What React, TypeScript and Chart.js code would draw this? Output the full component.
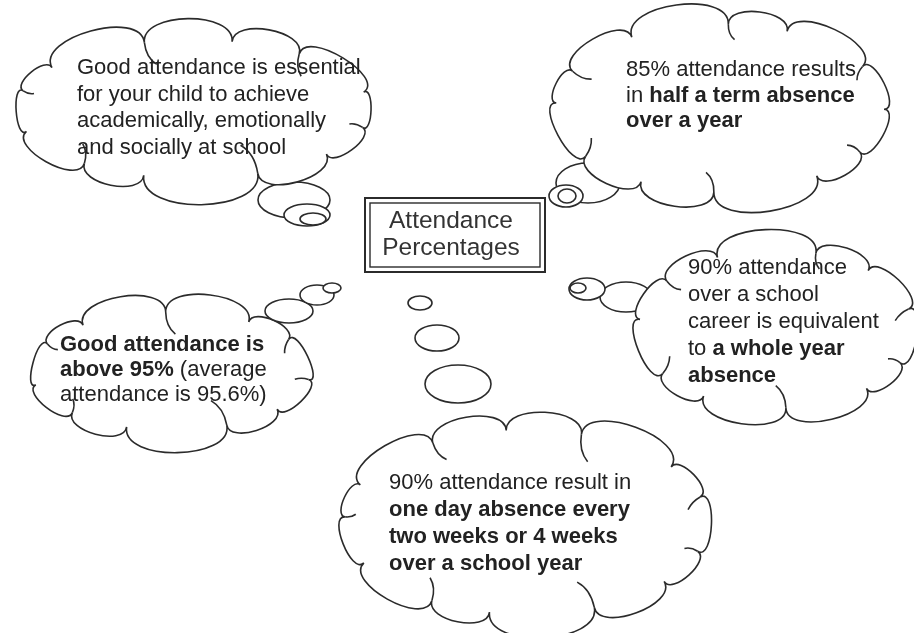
import React, { useEffect, useRef } from "react";
import { Chart, registerables } from "chart.js";

Chart.register(...registerables);

// ---- content ----
const titleLines = ["Attendance", "Percentages"];

const cloudTopLeftLines = [
  "Good attendance is essential",
  "for your child to achieve",
  "academically, emotionally",
  "and socially at school",
];
const cloudTopRightLines = [
  "85% attendance results",
  "in **half a term absence**",
  "**over a year**",
];
const cloudLeftLines = [
  "**Good attendance is**",
  "**above 95%** (average",
  "attendance is 95.6%)",
];
const cloudRightLines = [
  "90% attendance",
  "over a school",
  "career is equivalent",
  "to **a whole year**",
  "**absence**",
];
const cloudBottomLines = [
  "90% attendance result in",
  "**one day absence every**",
  "**two weeks or 4 weeks**",
  "**over a school year**",
];
const cloudTexts = [
  cloudTopLeftLines,
  cloudTopRightLines,
  cloudLeftLines,
  cloudRightLines,
  cloudBottomLines,
];

// cloud geometry in scale units (x: 0..914, y: 0..633)
const cloudCX = [193, 720, 171, 776, 526];
const cloudCY = [109, 108, 371, 329, 522];
const cloudRX = [176, 164, 139, 137, 181];
const cloudRY = [69, 84, 59, 79, 92];
const cloudBumps = [12, 12, 11, 11, 13];
const cloudPhase = [0.2, 0.5, 0.1, 0.35, 0.25];

const textX = [77, 626, 60, 688, 389];
const textY = [68, 70, 345, 268, 483];
const textGap = [26.5, 25.5, 25, 27, 27];

// small thought ellipses: [x, y, rx, ry]
const tailX = [294, 307, 313, 588, 566, 567, 289, 317, 332, 626, 587, 578, 420, 437, 458];
const tailY = [200, 215, 219, 183, 196, 196, 311, 295, 288, 297, 289, 288, 303, 338, 384];
const tailRX = [36, 23, 13, 32, 17, 9, 24, 17, 9, 26, 18, 8, 12, 22, 33];
const tailRY = [18, 11, 6, 20, 11, 7, 12, 10, 5, 15, 11, 5, 7, 13, 19];
const tailUnder = [true, false, false, true, false, false, false, false, false, true, false, false, false, false, false];

const FONT = '"Liberation Sans", Arial, Helvetica, sans-serif';
const INK = "#2b2b2b";

function cloudPath(ctx: CanvasRenderingContext2D, cx: number, cy: number, rx: number, ry: number, n: number, phase: number) {
  const pts: { x: number; y: number; nx: number; ny: number }[] = [];
  const step = (Math.PI * 2) / n;
  for (let i = 0; i < n; i++) {
    const a = phase + i * step + 0.16 * step * Math.sin(i * 2.3 + phase * 5);
    const x = cx + rx * Math.cos(a);
    const y = cy + ry * Math.sin(a);
    let nx = Math.cos(a) / rx;
    let ny = Math.sin(a) / ry;
    const l = Math.hypot(nx, ny);
    nx /= l;
    ny /= l;
    pts.push({ x, y, nx, ny });
  }
  ctx.beginPath();
  ctx.moveTo(pts[0].x, pts[0].y);
  for (let i = 0; i < n; i++) {
    const p = pts[i];
    const q = pts[(i + 1) % n];
    const L = Math.hypot(q.x - p.x, q.y - p.y);
    const h = L * 0.36;
    ctx.bezierCurveTo(p.x + p.nx * h, p.y + p.ny * h, q.x + q.nx * h, q.y + q.ny * h, q.x, q.y);
  }
  ctx.closePath();
  return pts;
}

function drawRichLine(ctx: CanvasRenderingContext2D, line: string, x: number, y: number, size: number) {
  const parts = line.split("**");
  let cx = x;
  parts.forEach((seg, i) => {
    if (!seg) return;
    const bold = i % 2 === 1;
    ctx.font = `${bold ? "bold " : ""}${size}px ${FONT}`;
    ctx.fillText(seg, cx, y);
    cx += ctx.measureText(seg).width;
  });
}

const cloudPlugin = {
  id: "cloudPlugin",
  afterDatasetsDraw(chart: any) {
    const ctx: CanvasRenderingContext2D = chart.ctx;
    const xs = chart.scales.x;
    const ys = chart.scales.y;
    const px = (v: number) => xs.getPixelForValue(v);
    const py = (v: number) => ys.getPixelForValue(v);
    const sx = (v: number) => Math.abs(xs.getPixelForValue(v) - xs.getPixelForValue(0));
    const sy = (v: number) => Math.abs(ys.getPixelForValue(v) - ys.getPixelForValue(0));

    ctx.save();
    ctx.fillStyle = "#ffffff";
    ctx.fillRect(0, 0, chart.width, chart.height);
    ctx.strokeStyle = INK;
    ctx.lineWidth = 1.6;

    const drawTail = (i: number) => {
      ctx.beginPath();
      ctx.ellipse(px(tailX[i]), py(tailY[i]), sx(tailRX[i]), sy(tailRY[i]), 0, 0, Math.PI * 2);
      ctx.fillStyle = "#ffffff";
      ctx.fill();
      ctx.stroke();
    };

    tailX.forEach((_, i) => {
      if (tailUnder[i]) drawTail(i);
    });

    for (let c = 0; c < cloudCX.length; c++) {
      const pts = cloudPath(ctx, px(cloudCX[c]), py(cloudCY[c]), sx(cloudRX[c]), sy(cloudRY[c]), cloudBumps[c], cloudPhase[c]);
      ctx.fillStyle = "#ffffff";
      ctx.fill();
      ctx.stroke();
      const n = pts.length;
      for (let i = 0; i < n; i += 2) {
        const p = pts[i];
        const q = pts[(i + 1) % n];
        const L = Math.hypot(q.x - p.x, q.y - p.y);
        const len = L * 0.25;
        const tx = (q.x - p.x) / L;
        const ty = (q.y - p.y) / L;
        ctx.beginPath();
        ctx.moveTo(p.x, p.y);
        ctx.quadraticCurveTo(p.x - p.nx * len * 0.7, p.y - p.ny * len * 0.7, p.x - p.nx * len + tx * len * 0.45, p.y - p.ny * len + ty * len * 0.45);
        ctx.stroke();
      }
    }

    tailX.forEach((_, i) => {
      if (!tailUnder[i]) drawTail(i);
    });

    // title box
    const bx = px(365), by = py(198), bw = sx(180), bh = sy(74);
    ctx.lineWidth = 2;
    ctx.strokeRect(bx, by, bw, bh);
    ctx.lineWidth = 1.4;
    ctx.strokeRect(bx + 5, by + 5, bw - 10, bh - 10);
    ctx.fillStyle = "#333";
    ctx.textAlign = "center";
    ctx.textBaseline = "middle";
    ctx.font = `24.5px ${FONT}`;
    ctx.fillText(titleLines[0], px(451), py(221));
    ctx.fillText(titleLines[1], px(451), py(248));

    ctx.textAlign = "left";
    ctx.fillStyle = "#222";
    cloudTexts.forEach((lines, c) => {
      lines.forEach((line, j) => {
        drawRichLine(ctx, line, px(textX[c]), py(textY[c] + j * textGap[c]), 22);
      });
    });
    ctx.restore();
  },
};

export default function App() {
  const ref = useRef<HTMLCanvasElement | null>(null);
  useEffect(() => {
    if (!ref.current) return;
    const chart = new Chart(ref.current, {
      type: "scatter",
      data: {
        datasets: [
          {
            label: "clouds",
            data: cloudCX.map((x, i) => ({ x, y: cloudCY[i] })),
            pointRadius: 0,
          },
        ],
      },
      options: {
        animation: false,
        responsive: false,
        layout: { padding: 0 },
        events: [],
        scales: {
          x: { type: "linear", min: 0, max: 914, display: false },
          y: { type: "linear", min: 0, max: 633, reverse: true, display: false },
        },
        plugins: { legend: { display: false }, tooltip: { enabled: false } },
      },
      plugins: [cloudPlugin],
    });
    return () => chart.destroy();
  }, []);
  return (
    <div style={{ position: "absolute", left: 0, top: 0, width: 914, height: 633, background: "#fff" }}>
      <canvas ref={ref} width={914} height={633} style={{ display: "block" }} />
    </div>
  );
}
